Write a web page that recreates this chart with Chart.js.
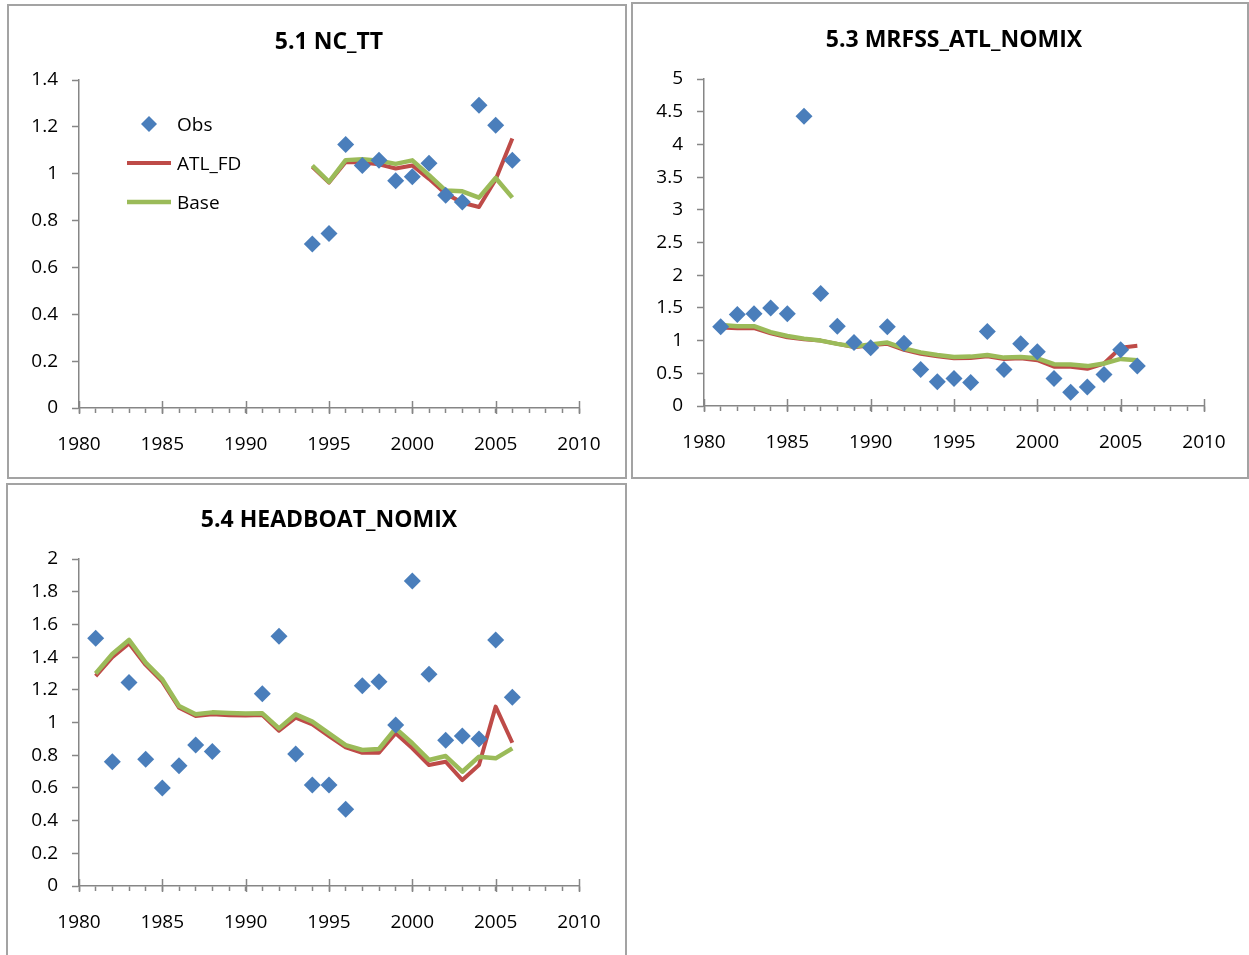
<!doctype html>
<html>
<head>
  <meta charset="utf-8" />
  <title>Index fits</title>
  <script src="https://cdn.jsdelivr.net/npm/chart.js"></script>
  <style>
    body { margin: 0; background: #fff; overflow: hidden; }
    .panel { position: absolute; box-sizing: border-box; border: 2px solid #a3a3a3; background: #fff; }
    .panel canvas { display: block; }
  </style>
</head>
<body>
  <div class="panel" style="left:7px;top:4px;width:620px;height:475px"><canvas id="c1" width="616" height="471"></canvas></div>
  <div class="panel" style="left:631px;top:2px;width:618px;height:477px"><canvas id="c2" width="614" height="473"></canvas></div>
  <div class="panel" style="left:6px;top:483px;width:621px;height:480px"><canvas id="c3" width="617" height="470"></canvas></div>

  <script>
    // 5.1 NC_TT
    const ncYears = [1994, 1995, 1996, 1997, 1998, 1999, 2000, 2001, 2002, 2003, 2004, 2005, 2006];
    const ncObs   = [0.70, 0.745, 1.125, 1.035, 1.058, 0.97, 0.987, 1.045, 0.908, 0.879, 1.292, 1.207, 1.058];
    const ncAtl   = [1.03, 0.962, 1.05, 1.048, 1.04, 1.022, 1.035, 0.978, 0.915, 0.876, 0.858, 0.975, 1.15];
    const ncBase  = [1.035, 0.965, 1.058, 1.062, 1.055, 1.042, 1.057, 0.994, 0.928, 0.925, 0.898, 0.982, 0.898];

    // 5.3 MRFSS_ATL_NOMIX
    const mrYears = [1981, 1982, 1983, 1984, 1985, 1986, 1987, 1988, 1989, 1990, 1991, 1992, 1993,
                     1994, 1995, 1996, 1997, 1998, 1999, 2000, 2001, 2002, 2003, 2004, 2005, 2006];
    const mrObs  = [1.21, 1.40, 1.41, 1.50, 1.41, 4.43, 1.72, 1.22, 0.97, 0.89, 1.21, 0.96, 0.56,
                    0.37, 0.42, 0.36, 1.14, 0.56, 0.95, 0.83, 0.42, 0.21, 0.29, 0.48, 0.86, 0.61];
    const mrAtl  = [1.20, 1.19, 1.19, 1.11, 1.05, 1.02, 1.00, 0.95, 0.90, 0.93, 0.95, 0.86, 0.80,
                    0.76, 0.73, 0.735, 0.76, 0.72, 0.73, 0.70, 0.60, 0.60, 0.57, 0.65, 0.89, 0.92];
    const mrBase = [1.24, 1.22, 1.22, 1.13, 1.07, 1.03, 1.00, 0.95, 0.91, 0.94, 0.97, 0.88, 0.82,
                    0.78, 0.75, 0.755, 0.78, 0.74, 0.75, 0.73, 0.64, 0.635, 0.61, 0.65, 0.72, 0.70];

    // 5.4 HEADBOAT_NOMIX
    const hbYears = mrYears;
    const hbObs  = [1.515, 0.76, 1.244, 0.775, 0.60, 0.735, 0.862, 0.822, null, null, 1.176, 1.527, 0.808,
                    0.618, 0.618, 0.469, 1.225, 1.25, 0.985, 1.865, 1.295, 0.891, 0.917, 0.899, 1.505, 1.154];
    const hbAtl  = [1.284, 1.40, 1.484, 1.352, 1.25, 1.09, 1.04, 1.05, 1.045, 1.043, 1.046, 0.95, 1.03,
                    0.989, 0.917, 0.848, 0.815, 0.815, 0.934, 0.842, 0.74, 0.76, 0.648, 0.74, 1.097, 0.876];
    const hbBase = [1.30, 1.419, 1.505, 1.366, 1.264, 1.101, 1.05, 1.062, 1.058, 1.055, 1.056, 0.964, 1.05,
                    1.005, 0.934, 0.862, 0.832, 0.838, 0.964, 0.873, 0.771, 0.795, 0.699, 0.791, 0.781, 0.842];

    const seriesNames = ["Obs", "ATL_FD", "Base"];
    const xTickYears = [1980, 1985, 1990, 1995, 2000, 2005, 2010];

    const FONT = "'Open Sans', Calibri, Lato, sans-serif";
    const AXIS = "#868686";
    const BLUE = "#4a7ebb", RED = "#be4b48", GREEN = "#9bbb59";

    const pts = (xs, ys) => xs.map((x, i) => ({ x, y: ys[i] }));

    // longer major ticks on the x axis, crossing the axis line
    const majorTicks = {
      id: "majorTicks",
      beforeDatasetsDraw(chart) {
        const { ctx, scales: { x }, chartArea } = chart;
        ctx.save();
        ctx.strokeStyle = AXIS;
        ctx.lineWidth = 1.5;
        xTickYears.forEach(v => {
          const px = Math.round(x.getPixelForValue(v)) + 0.5;
          ctx.beginPath();
          ctx.moveTo(px, chartArea.bottom - 7);
          ctx.lineTo(px, chartArea.bottom + 6);
          ctx.stroke();
        });
        ctx.restore();
      }
    };

    // legend inside the first panel
    const insideLegend = {
      id: "insideLegend",
      afterDraw(chart) {
        const ctx = chart.ctx;
        ctx.save();
        ctx.font = "19px " + FONT;
        ctx.textBaseline = "middle";
        // Obs diamond
        ctx.fillStyle = BLUE;
        ctx.beginPath();
        ctx.moveTo(140, 110); ctx.lineTo(148, 118); ctx.lineTo(140, 126); ctx.lineTo(132, 118);
        ctx.closePath(); ctx.fill();
        ctx.lineCap = "butt";
        ctx.lineWidth = 4;
        ctx.strokeStyle = RED;
        ctx.beginPath(); ctx.moveTo(118, 157); ctx.lineTo(162, 157); ctx.stroke();
        ctx.lineWidth = 4.5;
        ctx.strokeStyle = GREEN;
        ctx.beginPath(); ctx.moveTo(118, 196); ctx.lineTo(162, 196); ctx.stroke();
        ctx.fillStyle = "#000";
        ctx.fillText(seriesNames[0], 168, 120);
        ctx.fillText(seriesNames[1], 168, 159);
        ctx.fillText(seriesNames[2], 168, 198);
        ctx.restore();
      }
    };

    function makeChart(id, opts) {
      const plugins = [majorTicks];
      if (opts.legend) plugins.push(insideLegend);
      return new Chart(document.getElementById(id), {
        type: "scatter",
        data: {
          datasets: [
            { label: seriesNames[0], data: pts(opts.years, opts.obs), order: 0,
              pointStyle: "rectRot", pointRadius: 8.5, pointBackgroundColor: BLUE, pointBorderWidth: 0, showLine: false },
            { label: seriesNames[2], data: pts(opts.years, opts.base), order: 1, showLine: true,
              borderColor: GREEN, borderWidth: 4.5, pointRadius: 0, tension: 0, borderJoinStyle: "round" },
            { label: seriesNames[1], data: pts(opts.years, opts.atl), order: 2, showLine: true,
              borderColor: RED, borderWidth: 4, pointRadius: 0, tension: 0, borderJoinStyle: "round" }
          ]
        },
        options: {
          responsive: false,
          animation: false,
          events: [],
          layout: { padding: { left: 0, top: 0, right: opts.right, bottom: 0 } },
          plugins: {
            legend: { display: false },
            tooltip: { enabled: false },
            title: {
              display: true, text: opts.title, fullSize: false, color: "#000",
              font: { family: FONT, size: 23, weight: "bold" },
              padding: { top: opts.titleTop, bottom: opts.titleBottom }
            }
          },
          scales: {
            x: {
              type: "linear", min: 1980, max: 2010,
              afterFit: s => { s.height = opts.xHeight; },
              border: { display: true, color: AXIS, width: 1.5 },
              grid: { display: true, drawOnChartArea: false, drawTicks: true, tickLength: 5, color: AXIS, tickColor: AXIS, tickWidth: 1.5 },
              ticks: {
                stepSize: 1, autoSkip: false, maxRotation: 0, padding: 20, color: "#000",
                font: { family: FONT, size: 19 },
                callback: v => (v % 5 === 0 ? String(v) : "")
              }
            },
            y: {
              min: 0, max: opts.ymax,
              afterFit: s => { s.width = opts.yWidth; },
              border: { display: true, color: AXIS, width: 1.5 },
              grid: { display: true, drawOnChartArea: false, drawTicks: true, tickLength: 7, color: AXIS, tickColor: AXIS, tickWidth: 1.5 },
              ticks: {
                stepSize: opts.ystep, padding: 14, color: "#000",
                font: { family: FONT, size: 19 },
                callback: v => String(+v.toFixed(2))
              }
            }
          }
        },
        plugins
      });
    }

    makeChart("c1", { title: "5.1 NC_TT", years: ncYears, obs: ncObs, atl: ncAtl, base: ncBase,
      ymax: 1.4, ystep: 0.2, right: 46, yWidth: 70, xHeight: 69, titleTop: 22.2, titleBottom: 24.2, legend: true });
    makeChart("c2", { title: "5.3 MRFSS_ATL_NOMIX", years: mrYears, obs: mrObs, atl: mrAtl, base: mrBase,
      ymax: 5, ystep: 0.5, right: 43, yWidth: 71, xHeight: 71, titleTop: 22.2, titleBottom: 25.2 });
    makeChart("c3", { title: "5.4 HEADBOAT_NOMIX", years: hbYears, obs: hbObs, atl: hbAtl, base: hbBase,
      ymax: 2, ystep: 0.2, right: 46, yWidth: 71, xHeight: 69, titleTop: 21.2, titleBottom: 25.2 });
  </script>
</body>
</html>
